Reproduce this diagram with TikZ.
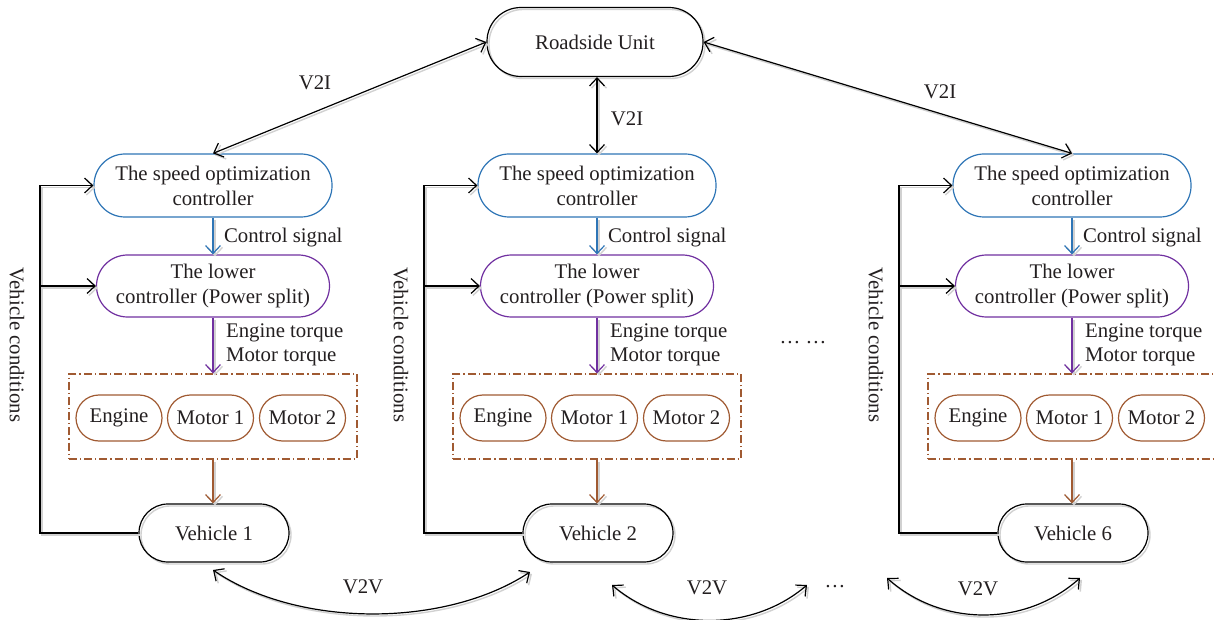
\documentclass[tikz,border=0pt]{standalone}
\usepackage{fontspec}
\setmainfont{Liberation Serif}
\usetikzlibrary{arrows.meta}
\definecolor{spdblue}{RGB}{46,117,182}
\definecolor{lowpurple}{RGB}{112,48,160}
\definecolor{brn}{RGB}{160,90,50}
\definecolor{txt}{RGB}{35,31,32}
\tikzset{
  every node/.style={font=\fontsize{10.4}{12.6}\selectfont, text=txt},
  shade/.style={preaction={draw=black!18, line width=0.7pt, transform canvas={xshift=1pt,yshift=-1pt}}},
  base/.style={draw, line width=0.6pt, align=center, inner sep=1pt},
  rsu/.style={base, shade, rounded corners=17pt, minimum width=108pt, minimum height=34.5pt},
  spd/.style={base, draw=spdblue, rounded corners=15.5pt, minimum width=119pt, minimum height=31.5pt},
  low/.style={base, draw=lowpurple, rounded corners=15.5pt, minimum width=116.5pt, minimum height=31pt},
  act/.style={base, draw=brn, rounded corners=11.5pt, minimum width=43pt, minimum height=23pt},
  veh/.style={base, shade, rounded corners=14.5pt, minimum width=75pt, minimum height=29pt},
  grp/.style={draw=brn, line width=0.6pt, dash pattern=on 4pt off 1.5pt on 0.6pt off 1.5pt, minimum width=144pt, minimum height=42.5pt, inner sep=0pt},
  arr/.style={line width=0.6pt, -{Straight Barb[length=4pt,width=7.5pt]}},
  arrtwo/.style={line width=0.6pt, {Straight Barb[length=4pt,width=7.5pt]}-{Straight Barb[length=4pt,width=7.5pt]}},
}
\begin{document}
\begin{tikzpicture}[x=0.5pt,y=-0.5pt]
\useasboundingbox (0,0) rectangle (1215,620);

\node[rsu] (r) at (595,42) {Roadside Unit};

\foreach \cx/\i/\v in {213/1/1, 597/2/2, 1072/3/6}{
  \node[spd] (s\i) at (\cx,185.5) {The speed optimization\\controller};
  \node[low] (l\i) at (\cx,286) {The lower\\controller (Power split)};
  \node[grp] (g\i) at (\cx,416.5) {};
  \node[act] (e\i) at (\cx-94,418) {Engine};
  \node[act] (ma\i) at (\cx-2.5,418) {Motor 1};
  \node[act] (mb\i) at (\cx+89.5,418) {Motor 2};
  \node[veh] (v\i) at (\cx+1,533) {Vehicle \v};
  \draw[arr, draw=spdblue, shade] (s\i.south) -- (l\i.north);
  \draw[arr, draw=lowpurple, shade] (l\i.south) -- (g\i.north);
  \draw[arr, draw=brn, shade] (g\i.south) -- (v\i.north -| g\i.south);
  \node[anchor=west] (cs\i) at (\cx+4,238) {Control signal};
  \node[anchor=west] (et\i) at (\cx+6,333) {Engine torque};
  \node[anchor=west] (mt\i) at (\cx+6,357) {Motor torque};
  \coordinate (fa\i) at (\cx-173,533);
  \coordinate (fb\i) at (\cx-173,185.5);
  \draw[arr, shade] (v\i.west) -- (fa\i) -- (fb\i) -- (s\i.west);
  \draw[arr, shade] (l\i.west -| fa\i) -- (l\i.west);
  \node[rotate=-90] (vc\i) at (\cx-196,345) {Vehicle conditions};
}

\draw[arrtwo, shade] (r.west) -- (s1.north);
\draw[arrtwo, shade] (r.south -| s2.north) -- (s2.north);
\draw[arrtwo, shade] (r.east) -- (s3.north);
\node (li1) at (315,83) {V2I};
\node (li2) at (627,119) {V2I};
\node (li3) at (940,92) {V2I};

\node (dots1) at (803,343) {\dots\ \dots};

\coordinate (a1) at (213,570);
\coordinate (b1) at (530,572);
\coordinate (a2) at (612,585);
\coordinate (b2) at (807,585);
\coordinate (a3) at (887,578);
\coordinate (b3) at (1080,578);
\draw[arrtwo, shade] (a1) .. controls (298,628) and (445,628) .. (b1);
\draw[arrtwo, shade] (a2) .. controls (667,632) and (752,632) .. (b2);
\draw[arrtwo, shade] (a3) .. controls (942,627) and (1025,627) .. (b3);
\node (lv1) at (363,587) {V2V};
\node (lv2) at (707,588) {V2V};
\node (lv3) at (978,589) {V2V};
\node (dots2) at (835,587) {\dots};
\end{tikzpicture}
\end{document}
